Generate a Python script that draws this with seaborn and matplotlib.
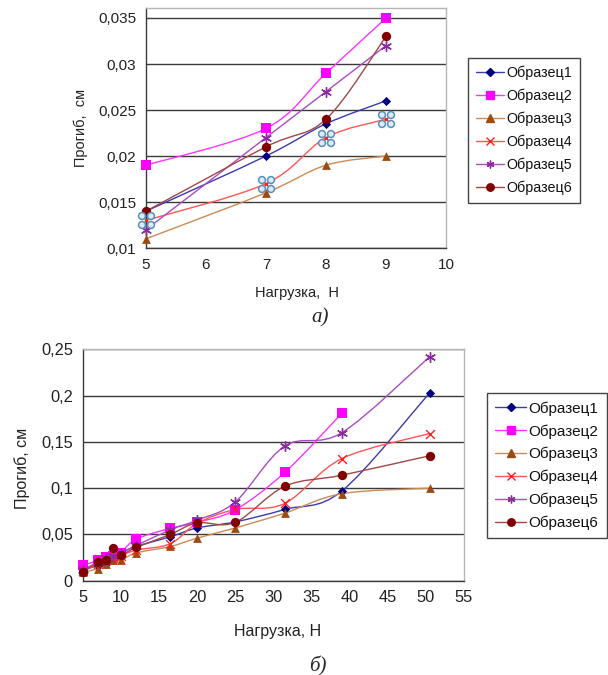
import numpy as np
import pandas as pd
import matplotlib
matplotlib.use("Agg")
import matplotlib.pyplot as plt
import seaborn as sns
from matplotlib.path import Path
from matplotlib.patches import PathPatch
from matplotlib.lines import Line2D
from matplotlib import ticker

# ---------- data ---------------------------------------------------------
series_names = ["Образец1", "Образец2", "Образец3", "Образец4", "Образец5", "Образец6"]

# chart a)
load_a = [5, 7, 8, 9]
defl_a_1 = [0.014, 0.020, 0.0235, 0.026]
defl_a_2 = [0.019, 0.023, 0.029, 0.035]
defl_a_3 = [0.011, 0.016, 0.019, 0.020]
defl_a_4 = [0.013, 0.017, 0.022, 0.024]
defl_a_5 = [0.012, 0.022, 0.027, 0.032]
defl_a_6 = [0.014, 0.021, 0.024, 0.033]

# chart б)
load_b = [5, 7, 8, 9, 10, 12, 16.5, 20, 25, 31.5, 39, 50.5]
load_b_2 = [5, 7, 8, 9, 10, 12, 16.5, 20, 25, 31.5, 39]
defl_b_1 = [0.012, 0.016, 0.018, 0.022, 0.030, 0.037, 0.0475, 0.057, 0.0635, 0.077, 0.097, 0.203]
defl_b_2 = [0.0165, 0.022, 0.026, 0.027, 0.030, 0.045, 0.0565, 0.063, 0.0765, 0.117, 0.181]
defl_b_3 = [0.009, 0.013, 0.018, 0.022, 0.022, 0.030, 0.037, 0.046, 0.057, 0.073, 0.094, 0.100]
defl_b_4 = [0.010, 0.018, 0.022, 0.025, 0.027, 0.033, 0.040, 0.062, 0.077, 0.0835, 0.132, 0.159]
defl_b_5 = [0.012, 0.020, 0.025, 0.027, 0.030, 0.038, 0.055, 0.0655, 0.085, 0.1455, 0.160, 0.242]
defl_b_6 = [0.009, 0.020, 0.022, 0.035, 0.028, 0.036, 0.050, 0.0625, 0.063, 0.102, 0.114, 0.135]

# ---------- styles --------------------------------------------------------
line_colors = ["#3B3BB0", "#FF33FF", "#CC8A55", "#FF5555", "#A94CC4", "#A04848"]
marker_colors = ["#000080", "#FF00FF", "#9C4A10", "#FF2020", "#8B2A9E", "#800000"]
markers = ["D", "s", "^", "x", (6, 2, 0), "o"]
marker_sizes = [22, 45, 40, 40, 50, 45]

# selection-handle glyph seen on Образец4 in chart a)
_circles = [Path.circle((cx, cy), 0.42) for cx in (-0.55, 0.55) for cy in (-0.55, 0.55)]
handle_marker = Path.make_compound_path(*_circles)


def smooth_path(xs, ys):
    # excel-like smoothed line: cubic bezier segments (catmull-rom tangents)
    p = np.column_stack([xs, ys]).astype(float)
    n = len(p)
    verts = [p[0]]
    codes = [Path.MOVETO]
    for i in range(n - 1):
        p0 = p[i - 1] if i > 0 else p[i]
        p3 = p[i + 2] if i + 2 < n else p[i + 1]
        c1 = p[i] + (p[i + 1] - p0) / 6.0
        c2 = p[i + 1] - (p3 - p[i]) / 6.0
        verts += [c1, c2, p[i + 1]]
        codes += [Path.CURVE4] * 3
    return Path(verts, codes)


def comma_fmt(v, pos):
    return ("%g" % round(v, 4)).replace(".", ",")


def long_df(loads, values):
    frames = []
    for name, x, y in zip(series_names, loads, values):
        frames.append(pd.DataFrame({"load": x, "defl": y, "series": name}))
    return pd.concat(frames, ignore_index=True)


def draw_chart(ax, df):
    for i, name in enumerate(series_names):
        sub = df[df["series"] == name]
        patch = PathPatch(smooth_path(sub["load"], sub["defl"]), facecolor="none",
                          edgecolor=line_colors[i], lw=1.0, transform=ax.transData,
                          zorder=2, clip_on=False)
        ax.add_patch(patch)
        sns.scatterplot(data=sub, x="load", y="defl", ax=ax, marker=markers[i],
                        color=marker_colors[i], s=marker_sizes[i],
                        linewidth=1.0 if markers[i] in ("x", (6, 2, 0)) else 0,
                        edgecolor=marker_colors[i], zorder=3, clip_on=False, legend=False)


def style_axes(ax, fs):
    ax.grid(False)
    ax.yaxis.grid(True, color="#3A3A3A", lw=1.0)
    ax.set_axisbelow(True)
    for s in ["left", "bottom"]:
        ax.spines[s].set_color("#3A3A3A")
        ax.spines[s].set_linewidth(1.0)
    for s in ["top", "right"]:
        ax.spines[s].set_color("#B5B5B5")
        ax.spines[s].set_linewidth(1.0)
    ax.tick_params(axis="both", direction="out", length=4, width=1.0, color="#3A3A3A",
                   labelsize=fs, labelcolor="#222222", pad=3)
    ax.yaxis.set_major_formatter(ticker.FuncFormatter(comma_fmt))


def add_legend(fig, anchor, fs, spacing):
    handles = []
    for i, name in enumerate(series_names):
        handles.append(Line2D([0], [0], color=line_colors[i], lw=1.0, marker=markers[i],
                              markersize=np.sqrt(marker_sizes[i]) * 0.8,
                              markerfacecolor=marker_colors[i], markeredgecolor=marker_colors[i],
                              markeredgewidth=1.0, label=name))
    leg = fig.legend(handles=handles, loc="upper left", bbox_to_anchor=anchor,
                     fontsize=fs, frameon=True, fancybox=False, framealpha=1,
                     edgecolor="#444444", borderaxespad=0, borderpad=0.55,
                     labelspacing=spacing, handlelength=2.0, handletextpad=0.15)
    leg.get_frame().set_linewidth(1.0)
    for t in leg.get_texts():
        t.set_color("#111111")
    return leg


# ---------- figure --------------------------------------------------------
sns.set_theme(style="white")
plt.rcParams["font.family"] = ["Liberation Sans", "DejaVu Sans"]

W, H = 608, 675
fig = plt.figure(figsize=(W / 100, H / 100), dpi=100)

# chart a)
ax1 = fig.add_axes([146 / W, 1 - 248 / H, 300 / W, 240 / H])
df_a = long_df([load_a] * 6, [defl_a_1, defl_a_2, defl_a_3, defl_a_4, defl_a_5, defl_a_6])
draw_chart(ax1, df_a)
sub4 = df_a[df_a["series"] == "Образец4"]
ax1.scatter(sub4["load"], sub4["defl"], marker=handle_marker, s=130, facecolor="#DDEBF7",
            edgecolor="#5A8FB8", linewidth=1.1, zorder=4, clip_on=False)
ax1.set_xlim(5, 10)
ax1.set_ylim(0.01, 0.01 + 0.025 * 240 / 230)
ax1.set_xticks(range(5, 11))
ax1.set_yticks([0.01, 0.015, 0.02, 0.025, 0.03, 0.035])
style_axes(ax1, 11)
ax1.set_xlabel("Нагрузка,  Н", fontsize=10.5, color="#222222")
ax1.set_ylabel("Прогиб,  см", fontsize=10.5, color="#222222")
ax1.xaxis.set_label_coords(0.503, -0.16)
ax1.yaxis.set_label_coords(-0.195, 0.5)
add_legend(fig, (468 / W, 1 - 58 / H), 10.3, 0.6)

# chart б)
ax2 = fig.add_axes([82.7 / W, 1 - 580.7 / H, 381.3 / W, 231.4 / H])
df_b = long_df([load_b, load_b_2, load_b, load_b, load_b, load_b],
               [defl_b_1, defl_b_2, defl_b_3, defl_b_4, defl_b_5, defl_b_6])
draw_chart(ax2, df_b)
ax2.set_xlim(5, 55)
ax2.set_ylim(0, 0.25)
ax2.set_xticks(range(5, 56, 5))
ax2.set_yticks([0, 0.05, 0.1, 0.15, 0.2, 0.25])
style_axes(ax2, 11.8)
ax2.set_xlabel("Нагрузка, Н", fontsize=11.5, color="#222222")
ax2.set_ylabel("Прогиб, см", fontsize=11.5, color="#222222")
ax2.xaxis.set_label_coords(0.51, -0.185)
ax2.yaxis.set_label_coords(-0.138, 0.487)
add_legend(fig, (487 / W, 1 - 393 / H), 11, 0.55)

# captions
fig.text(320 / W, 1 - 318 / H, "а)", fontsize=15, style="italic",
         family=["Liberation Serif", "DejaVu Serif"], ha="center", va="center")
fig.text(318 / W, 1 - 666 / H, "б)", fontsize=15, style="italic",
         family=["Liberation Serif", "DejaVu Serif"], ha="center", va="center")

fig.savefig("out.png", dpi=100, facecolor="white")
